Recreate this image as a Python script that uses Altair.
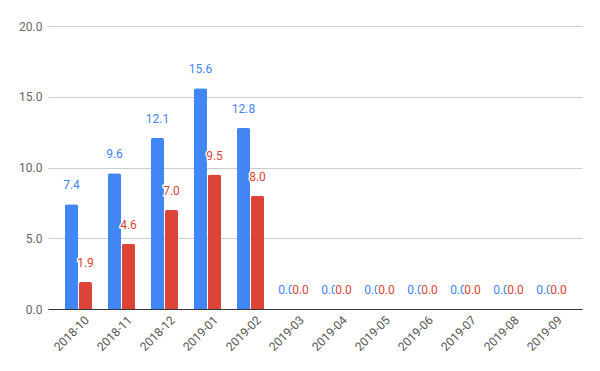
import altair as alt
import pandas as pd

months = ["2018-10", "2018-11", "2018-12", "2019-01", "2019-02", "2019-03",
          "2019-04", "2019-05", "2019-06", "2019-07", "2019-08", "2019-09"]
blue_values = [7.4, 9.6, 12.1, 15.6, 12.8, 0.0, 0.0, 0.0, 0.0, 0.0, 0.0, 0.0]
red_values = [1.9, 4.6, 7.0, 9.5, 8.0, 0.0, 0.0, 0.0, 0.0, 0.0, 0.0, 0.0]
series_names = ["A", "B"]
series_colors = ["#4285F4", "#DB4437"]
y_ticks = [0, 5, 10, 15, 20]

rows = []
for m, b, r in zip(months, blue_values, red_values):
    rows.append({"month": m, "series": series_names[0], "value": b})
    rows.append({"month": m, "series": series_names[1], "value": r})
df = pd.DataFrame(rows)

FONT = "Roboto"

x = alt.X(
    "month:N", sort=months,
    scale=alt.Scale(paddingInner=0.372, paddingOuter=0.395),
    axis=alt.Axis(title=None, labelAngle=-45, ticks=False, domainColor="#333333",
                  labelColor="#555555", labelFont=FONT, labelFontSize=12, labelPadding=5,
                  labelOffset=5),
)
xo = alt.XOffset("series:N", scale=alt.Scale(domain=series_names, paddingInner=0.07))
y = alt.Y(
    "value:Q", scale=alt.Scale(domain=[0, 20], nice=False),
    axis=alt.Axis(values=y_ticks, format=".1f", title=None, domain=False, ticks=False,
                  gridColor="#cccccc", labelColor="#666666", labelFont=FONT,
                  labelFontSize=12, labelPadding=6),
)
color = alt.Color("series:N", scale=alt.Scale(domain=series_names, range=series_colors),
                  legend=None)

base = alt.Chart(df)

bars = base.mark_bar(cornerRadiusTopLeft=2, cornerRadiusTopRight=2).encode(
    x=x, xOffset=xo, y=y, color=color)

blue_text = base.transform_filter(alt.datum.series == series_names[0]).mark_text(
    font=FONT, fontSize=12, dy=-19, baseline="middle", color=series_colors[0]
).encode(x=x, xOffset=xo, y=y, text=alt.Text("value:Q", format=".1f"))

red_halo = base.transform_filter(alt.datum.series == series_names[1]).mark_text(
    font=FONT, fontSize=12, dy=-19, baseline="middle", color="white",
    stroke="white", strokeWidth=3
).encode(x=x, xOffset=xo, y=y, text=alt.Text("value:Q", format=".1f"))

red_text = base.transform_filter(alt.datum.series == series_names[1]).mark_text(
    font=FONT, fontSize=12, dy=-19, baseline="middle", color=series_colors[1]
).encode(x=x, xOffset=xo, y=y, text=alt.Text("value:Q", format=".1f"))

chart = alt.layer(bars, blue_text, red_halo, red_text).properties(
    width=534, height=283,
    autosize=alt.AutoSizeParams(type="none"),
    padding={"left": 40, "top": 18, "right": 10, "bottom": 50},
    background="white",
).configure_view(stroke=None)

chart.save("out.html", embed_options={"renderer": "svg", "actions": False})
